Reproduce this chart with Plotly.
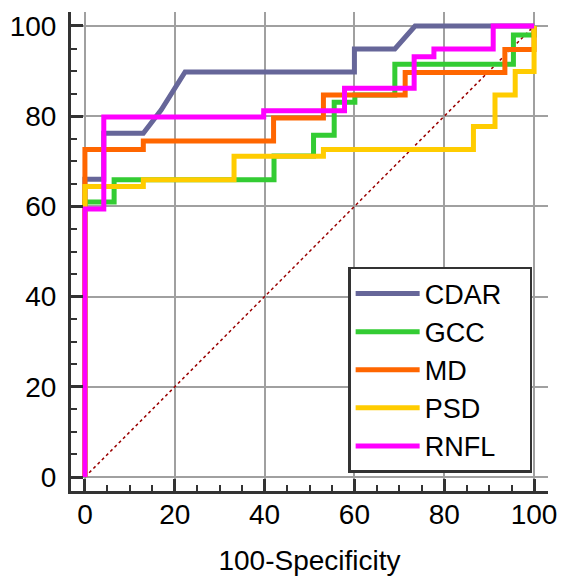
import plotly.graph_objects as go

# ---- data ----
series_names = ["CDAR", "GCC", "MD", "PSD", "RNFL"]
series_colors = ["#666699", "#33CC33", "#FF6600", "#FFCC00", "#FF00FF"]

cdar_x = [0, 0, 4.2, 4.2, 13, 17, 22.3, 60, 60, 69, 73.5, 100]
cdar_y = [0, 66, 66, 76.2, 76.2, 81.4, 89.8, 89.8, 94.9, 94.9, 100, 100]

gcc_x = [0, 0, 6.5, 6.5, 42.1, 42.1, 50.9, 50.9, 55.5, 55.5, 60.1, 60.1, 69, 69, 95.4, 95.4, 100, 100]
gcc_y = [0, 61, 61, 65.9, 65.9, 71.2, 71.2, 75.8, 75.8, 83.1, 83.1, 84.7, 84.7, 91.5, 91.5, 98, 98, 100]

md_x = [0, 0, 13, 13, 42, 42, 53.1, 53.1, 71.3, 71.3, 93.5, 93.5, 100, 100]
md_y = [0, 72.6, 72.6, 74.5, 74.5, 79.6, 79.6, 84.7, 84.7, 89.7, 89.7, 94.8, 94.8, 100]

psd_x = [0, 0, 13, 13, 33.2, 33.2, 53.1, 53.1, 86.5, 86.5, 91.3, 91.3, 95.8, 95.8, 100, 100]
psd_y = [0, 64.4, 64.4, 65.9, 65.9, 71.1, 71.1, 72.6, 72.6, 77.7, 77.7, 84.7, 84.7, 89.9, 89.9, 100]

rnfl_x = [0, 0, 4.2, 4.2, 39.8, 39.8, 57.8, 57.8, 73.3, 73.3, 77.7, 77.7, 90.9, 90.9, 100]
rnfl_y = [0, 59.4, 59.4, 79.8, 79.8, 81.2, 81.2, 86.2, 86.2, 93.2, 93.2, 94.9, 94.9, 100, 100]

diag_x = [0, 100]
diag_y = [0, 100]

tick_vals = [0, 20, 40, 60, 80, 100]
tick_text = ["0", "20", "40", "60", "80", "100"]
x_title = "100-Specificity"

xs = [cdar_x, gcc_x, md_x, psd_x, rnfl_x]
ys = [cdar_y, gcc_y, md_y, psd_y, rnfl_y]

FONT = "Liberation Sans, Arial, sans-serif"
AX = "#333333"
PAD = "\u00a0\u00a0\u00a0"  # right padding inside the legend box

fig = go.Figure()
fig.add_trace(go.Scatter(x=diag_x, y=diag_y, mode="lines", showlegend=False,
                         line=dict(color="#990000", width=1.5, dash="dot"),
                         hoverinfo="skip"))
for name, col, x, y in zip(series_names, series_colors, xs, ys):
    fig.add_trace(go.Scatter(x=x, y=y, mode="lines", name=name + PAD,
                             line=dict(color=col, width=5)))

axis_common = dict(
    range=[-3.1, 103.1], tickvals=tick_vals, ticktext=tick_text,
    showgrid=True, gridcolor="#A0A0A0", gridwidth=1.5, zeroline=False,
    showline=True, linecolor=AX, linewidth=3,
    ticks="inside", ticklen=12, tickwidth=3, tickcolor=AX,
    minor=dict(dtick=5, ticks="inside", ticklen=6, tickwidth=2, tickcolor=AX, showgrid=False),
    tickfont=dict(family=FONT, size=28, color="black"),
)

fig.update_xaxes(**axis_common, ticklabelstandoff=-4,
                 title=dict(text=x_title, font=dict(family=FONT, size=28, color="black"), standoff=22))
fig.update_yaxes(**axis_common, ticklabelstandoff=6)

fig.update_layout(
    width=561, height=578,
    margin=dict(l=71, r=13, t=12, b=87, autoexpand=False),
    paper_bgcolor="white", plot_bgcolor="white",
    font=dict(family=FONT, color="black"),
    legend=dict(x=0.581, y=0.0376, xanchor="left", yanchor="bottom",
                bgcolor="white", bordercolor=AX, borderwidth=2.5,
                font=dict(family=FONT, size=27, color="black"),
                itemwidth=64,
                tracegroupgap=0),
    showlegend=True,
)

fig.write_html("out.html")
